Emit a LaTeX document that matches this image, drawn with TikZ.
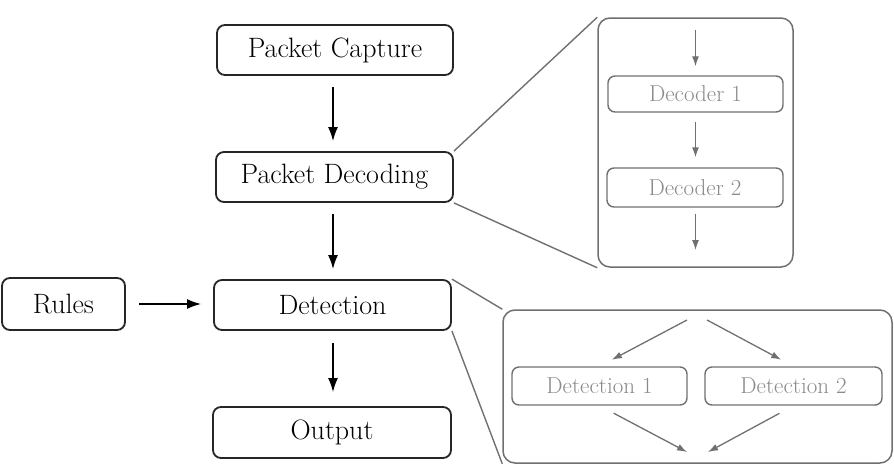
\documentclass[tikz,border=0pt]{standalone}
\usetikzlibrary{arrows.meta}
\definecolor{zg}{HTML}{707070}
\definecolor{zt}{HTML}{8A8A8A}
\begin{document}
\begin{tikzpicture}[x=1pt,y=-1pt,
 mainbox/.style={draw=black!85, line width=1.8pt, rounded corners=8pt, font=\fontsize{28}{32}\selectfont, inner sep=0pt},
 subbox/.style={draw=zg, line width=1.4pt, rounded corners=7pt, text=zt, font=\fontsize{23}{27}\selectfont, inner sep=0pt},
 zoombox/.style={draw=zg, line width=1.5pt, rounded corners=12pt, inner sep=0pt},
 mainarrow/.style={-{Latex[length=14pt,width=10pt]}, line width=1.7pt},
 subarrow/.style={draw=zg, -{Latex[length=10pt,width=7pt]}, line width=1.3pt},
 zoomline/.style={draw=zg, line width=1.4pt}]
\useasboundingbox (0,0) rectangle (894,466);

% main flow
\node[mainbox, minimum width=236pt, minimum height=50pt] (cap) at (335,50) {Packet Capture};
\node[mainbox, minimum width=237pt, minimum height=50pt] (dec) at (334.5,177) {Packet Decoding};
\node[mainbox, minimum width=237pt, minimum height=50pt] (det) at (332.5,305) {Detection};
\node[mainbox, minimum width=238pt, minimum height=51pt] (out) at (332,432.5) {Output};
\node[mainbox, minimum width=123pt, minimum height=52pt] (rules) at (63.5,304) {Rules};

\coordinate (ax) at (333,0);
\draw[mainarrow, shorten <=11pt, shorten >=10pt] (ax |- cap.south) -- (ax |- dec.north);
\draw[mainarrow, shorten <=11pt, shorten >=10pt] (ax |- dec.south) -- (ax |- det.north);
\draw[mainarrow, shorten <=12pt, shorten >=14pt] (ax |- det.south) -- (ax |- out.north);
\draw[mainarrow, shorten <=13pt, shorten >=12pt] (rules) -- (rules -| det.west);

% zoom of decoding
\node[zoombox, minimum width=195pt, minimum height=249pt] (zd) at (695.5,142.5) {};
\node[subbox, minimum width=175pt, minimum height=36pt] (d1) at (695.5,94) {Decoder 1};
\node[subbox, minimum width=176pt, minimum height=39pt] (d2) at (695,187.5) {Decoder 2};
\coordinate (t1) at (695.5,30);
\coordinate (b1) at (695.5,250);
\draw[subarrow, shorten >=9pt] (t1) -- (d1.north);
\draw[subarrow, shorten <=9pt, shorten >=10pt] (d1.south) -- (d1.south |- d2.north);
\draw[subarrow, shorten <=6pt] (b1 |- d2.south) -- (b1);
\draw[zoomline] (dec.north east) -- (zd.north west);
\draw[zoomline] (dec.south east) -- (zd.south west);

% zoom of detection
\node[zoombox, minimum width=389pt, minimum height=153pt] (zdt) at (697.5,386.5) {};
\node[subbox, minimum width=175pt, minimum height=38pt] (e1) at (599.5,386) {Detection 1};
\node[subbox, minimum width=177pt, minimum height=38pt] (e2) at (793.5,386) {Detection 2};
\coordinate (s1) at (687,320);
\coordinate (s2) at (707,320);
\coordinate (c1) at (687,452);
\coordinate (c2) at (708,452);
\draw[subarrow, shorten >=14pt] (s1) -- (e1.north);
\draw[subarrow, shorten >=14pt] (s2) -- (e2.north);
\draw[subarrow, shorten <=16pt] (e1.south) -- (c1);
\draw[subarrow, shorten <=16pt] (e2.south) -- (c2);
\draw[zoomline] (det.north east) -- (zdt.north west);
\draw[zoomline] (det.south east) -- (zdt.south west);
\end{tikzpicture}
\end{document}
